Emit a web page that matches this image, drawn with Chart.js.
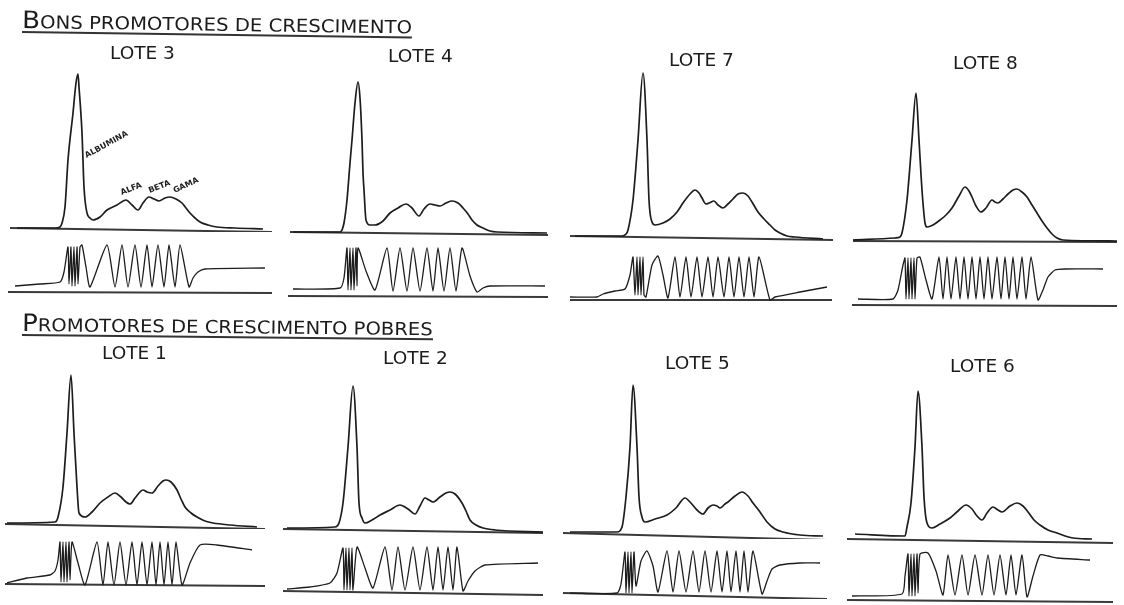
<!DOCTYPE html>
<html>
<head>
<meta charset="utf-8">
<script src="https://cdn.jsdelivr.net/npm/chart.js@4.4.1/dist/chart.umd.min.js"></script>
<style>
  html, body { margin: 0; padding: 0; background: #fff; }
  #page { position: relative; width: 1124px; height: 605px; overflow: hidden; background: #fff; }
  #page canvas { position: absolute; }
  .txt { position: absolute; white-space: nowrap; line-height: 1; font-family: "DejaVu Sans", sans-serif; color: #1c1c1c; }
</style>
</head>
<body>
<div id="page"></div>
<script>
// scans: [position along strip, height above baseline]
const lote3Curve = [[7,1],[45,1],[50,2],[52,6],[55,22],[58,69],[63,116],[66,146],[68,155],[69,142],[72,96],[74,42],[77,16],[80,11],[83,9],[90,12],[97,19],[107,24],[116,29],[122,24],[128,19],[133,26],[139,32],[144,30],[149,28],[155,31],[160,32],[166,30],[172,26],[176,21],[180,16],[185,11],[190,7],[198,4],[207,2],[225,1],[253,0]];
const lote3Trace = [[7,6],[32,8],[52,10],[56,20],[60,45],[61,8],[63,45],[64,6],[66,45],[67,6],[69,45],[70,8],[72,45],[74,47],[78,25],[82,5],[99,47],[107,5],[114,47],[120,5],[127,47],[133,5],[139,47],[144,5],[150,47],[156,5],[161,47],[167,5],[172,47],[181,5],[185,14],[190,20],[197,23],[257,24]];
const lote3Base = [[0,1],[262,-3]];
const lote3TraceBase = [[0,0],[264,-1]];

const lote4Curve = [[3,1],[50,1],[52,3],[54,10],[57,33],[60,70],[62,93],[65,130],[68,151],[70,135],[72,93],[73,60],[74,43],[76,13],[80,8],[85,8],[93,12],[100,20],[108,25],[116,29],[122,25],[129,17],[134,24],[140,29],[145,28],[150,27],[156,30],[162,32],[168,30],[173,25],[178,19],[182,13],[187,8],[193,5],[200,2],[207,1],[257,0]];
const lote4Trace = [[5,7],[52,8],[56,18],[59,48],[60,6],[62,48],[63,6],[65,48],[66,6],[68,48],[69,10],[70,48],[78,25],[87,6],[99,48],[105,5],[112,48],[119,5],[125,48],[132,5],[139,48],[145,5],[150,48],[156,5],[162,48],[168,5],[174,48],[182,20],[189,4],[195,8],[202,10],[257,10]];
const lote4Base = [[0,1],[258,-2]];
const lote4TraceBase = [[0,0],[260,-1]];

const lote7Curve = [[5,2],[52,2],[56,4],[58,8],[63,38],[68,98],[73,165],[77,98],[79,38],[82,16],[85,13],[93,15],[100,19],[107,26],[113,35],[120,44],[125,48],[129,45],[132,40],[136,34],[139,35],[144,37],[148,33],[153,30],[158,34],[163,39],[168,44],[173,45],[178,42],[182,36],[188,26],[194,19],[200,13],[205,8],[210,5],[217,2],[225,1],[253,-1]];
const lote7Trace = [[0,3],[27,3],[33,6],[45,9],[55,11],[60,25],[63,43],[65,5],[67,43],[68,5],[70,43],[71,5],[73,43],[74,5],[76,3],[82,35],[88,44],[93,25],[98,2],[105,43],[110,3],[116,43],[121,3],[127,43],[132,3],[138,43],[143,3],[148,43],[154,3],[159,43],[164,3],[169,43],[174,3],[179,43],[184,3],[189,43],[200,0],[205,3],[230,8],[257,13]];
const lote7Base = [[0,2],[263,-2]];
const lote7TraceBase = [[0,0],[262,0]];

const lote8Curve = [[0,1],[42,3],[47,4],[49,8],[54,41],[59,101],[63,148],[66,101],[69,51],[72,18],[74,14],[80,16],[87,21],[93,26],[99,33],[106,45],[112,54],[116,50],[119,44],[123,35],[128,29],[133,33],[139,41],[142,39],[145,38],[150,42],[155,47],[160,51],[164,52],[169,49],[174,44],[179,36],[184,28],[189,20],[194,13],[199,7],[204,3],[210,1],[264,0]];
const lote8Trace = [[6,6],[41,6],[46,15],[51,40],[53,47],[54,6],[56,47],[57,6],[59,47],[60,6],[62,47],[63,6],[65,47],[68,48],[74,25],[80,6],[87,48],[91,6],[95,48],[99,6],[104,48],[108,6],[112,48],[116,6],[120,48],[124,6],[128,48],[132,6],[136,48],[140,6],[145,48],[149,6],[153,48],[157,6],[161,48],[165,6],[170,48],[174,6],[179,48],[186,5],[191,15],[196,28],[203,35],[213,36],[251,36]];
const lote8Base = [[0,0],[264,-1]];
const lote8TraceBase = [[0,0],[265,-1]];

const lote1Curve = [[2,3],[50,4],[53,9],[58,39],[62,93],[66,151],[69,93],[72,39],[74,13],[80,9],[87,14],[95,23],[103,29],[110,33],[116,29],[121,24],[125,22],[130,28],[135,34],[138,36],[142,34],[147,33],[153,40],[158,45],[161,46],[166,44],[172,36],[176,27],[180,19],[186,13],[192,9],[200,5],[208,3],[225,1],[252,-1]];
const lote1Trace = [[2,2],[22,7],[45,10],[50,14],[53,25],[55,43],[56,3],[58,43],[59,3],[61,43],[62,3],[64,43],[65,5],[67,43],[73,22],[80,0],[92,43],[98,0],[103,43],[109,0],[115,43],[121,0],[127,43],[132,0],[137,43],[142,0],[147,43],[151,0],[155,43],[159,0],[163,43],[167,0],[171,43],[177,0],[185,22],[195,40],[212,40],[247,35]];
const lote1Base = [[0,2],[260,-3]];
const lote1TraceBase = [[0,1],[260,-1]];

const lote2Curve = [[4,3],[52,4],[56,8],[60,28],[65,84],[70,145],[74,84],[76,28],[79,13],[82,8],[89,11],[97,16],[107,21],[117,26],[125,22],[132,17],[137,25],[142,33],[146,31],[150,29],[157,34],[163,38],[167,39],[172,37],[179,28],[183,20],[187,11],[193,6],[200,3],[212,1],[260,-1]];
const lote2Trace = [[4,4],[27,6],[47,10],[54,20],[60,45],[61,3],[63,45],[64,3],[66,45],[67,3],[69,45],[70,3],[74,46],[82,25],[90,5],[102,46],[109,3],[115,46],[122,3],[130,46],[137,3],[144,46],[150,3],[155,46],[160,3],[165,46],[170,3],[174,46],[180,2],[185,12],[192,22],[202,28],[255,30]];
const lote2Base = [[0,2],[260,-2]];
const lote2TraceBase = [[0,2],[260,-2]];

const lote5Curve = [[7,4],[54,4],[59,9],[63,39],[67,89],[70,151],[74,89],[76,39],[79,19],[82,14],[92,17],[104,21],[113,28],[122,38],[127,34],[134,26],[140,22],[145,28],[150,31],[154,30],[157,28],[162,32],[165,34],[172,40],[179,44],[185,40],[190,33],[197,24],[204,14],[212,7],[220,4],[237,1],[260,0]];
const lote5Trace = [[7,3],[54,3],[58,12],[62,44],[63,3],[65,44],[66,3],[68,44],[69,3],[71,44],[73,10],[78,35],[84,45],[90,30],[95,4],[104,45],[110,4],[116,45],[123,4],[130,45],[136,4],[142,45],[148,4],[154,45],[159,4],[164,45],[168,4],[173,45],[177,4],[181,45],[185,4],[190,45],[199,2],[204,15],[209,27],[217,31],[237,33],[257,33]];
const lote5Base = [[0,3],[264,-4]];
const lote5TraceBase = [[0,3],[264,-3]];

const lote6Curve = [[8,7],[58,5],[60,14],[64,38],[68,94],[71,150],[75,94],[77,44],[80,18],[85,13],[93,17],[103,23],[111,30],[119,36],[125,32],[130,25],[135,21],[140,28],[146,34],[151,31],[155,29],[163,35],[170,38],[176,35],[181,29],[187,21],[193,16],[201,11],[210,8],[218,5],[226,3],[245,2]];
const lote6Trace = [[5,5],[55,7],[58,25],[61,47],[62,5],[64,47],[65,5],[67,47],[68,5],[70,47],[71,8],[73,47],[81,48],[89,30],[96,6],[101,46],[108,6],[115,46],[121,6],[128,46],[135,6],[141,46],[147,6],[153,46],[159,6],[164,46],[169,6],[175,46],[180,4],[186,25],[193,46],[201,45],[210,43],[243,41]];
const lote6Base = [[0,2],[266,-2]];
const lote6TraceBase = [[0,1],[266,-1]];

const groupTitles = ['BONS PROMOTORES DE CRESCIMENTO', 'PROMOTORES DE CRESCIMENTO POBRES'];
const fractionLabels = ['ALBUMINA', 'ALFA', 'BETA', 'GAMA'];

// placement of each panel on the page
const panels = [
  { title: 'LOTE 3', tx: 110, ty: 60, curve: lote3Curve, base: lote3Base, cx: 10, cy: 229, cw: 262, trace: lote3Trace, tbase: lote3TraceBase, rx: 8, ry: 292, rw: 264 },
  { title: 'LOTE 4', tx: 388, ty: 63, curve: lote4Curve, base: lote4Base, cx: 290, cy: 233, cw: 258, trace: lote4Trace, tbase: lote4TraceBase, rx: 288, ry: 296, rw: 260 },
  { title: 'LOTE 7', tx: 669, ty: 67, curve: lote7Curve, base: lote7Base, cx: 570, cy: 238, cw: 263, trace: lote7Trace, tbase: lote7TraceBase, rx: 570, ry: 300, rw: 262 },
  { title: 'LOTE 8', tx: 953, ty: 70, curve: lote8Curve, base: lote8Base, cx: 853, cy: 241, cw: 264, trace: lote8Trace, tbase: lote8TraceBase, rx: 852, ry: 305, rw: 265 },
  { title: 'LOTE 1', tx: 102, ty: 360, curve: lote1Curve, base: lote1Base, cx: 5, cy: 526, cw: 260, trace: lote1Trace, tbase: lote1TraceBase, rx: 5, ry: 585, rw: 260 },
  { title: 'LOTE 2', tx: 383, ty: 365, curve: lote2Curve, base: lote2Base, cx: 283, cy: 531, cw: 260, trace: lote2Trace, tbase: lote2TraceBase, rx: 283, ry: 593, rw: 260 },
  { title: 'LOTE 5', tx: 665, ty: 370, curve: lote5Curve, base: lote5Base, cx: 563, cy: 536, cw: 264, trace: lote5Trace, tbase: lote5TraceBase, rx: 563, ry: 596, rw: 264 },
  { title: 'LOTE 6', tx: 950, ty: 373, curve: lote6Curve, base: lote6Base, cx: 847, cy: 541, cw: 266, trace: lote6Trace, tbase: lote6TraceBase, rx: 847, ry: 601, rw: 266 }
];

const page = document.getElementById('page');
const INK = '#1d1d1d';

function toXY(pairs) {
  return pairs.map(p => ({ x: p[0], y: p[1] }));
}

// one small chart: a scan line plus its baseline, 1 unit = 1 px
function drawScan(points, base, left, baseY, width, yMax, lineW, smooth) {
  const pad = 3;
  const c = document.createElement('canvas');
  c.width = width + pad * 2;
  c.height = yMax + pad * 2;
  c.style.left = (left - pad) + 'px';
  c.style.top = (baseY - yMax - pad) + 'px';
  page.appendChild(c);

  const line = {
    data: toXY(points),
    borderColor: INK,
    borderWidth: lineW,
    pointRadius: 0,
    fill: false
  };
  if (smooth) line.cubicInterpolationMode = 'monotone';
  else line.tension = 0.2;

  new Chart(c, {
    type: 'line',
    data: {
      datasets: [
        line,
        {
          data: toXY(base),
          borderColor: '#3a3a3a',
          borderWidth: 2,
          pointRadius: 0,
          fill: false,
          tension: 0
        }
      ]
    },
    options: {
      responsive: false,
      animation: false,
      events: [],
      layout: { padding: 0 },
      plugins: { legend: { display: false }, tooltip: { enabled: false } },
      scales: {
        x: { type: 'linear', display: false, min: -pad, max: width + pad },
        y: { type: 'linear', display: false, min: -pad, max: yMax + pad }
      }
    }
  });
}

function addText(str, x, baseline, size, extra) {
  const d = document.createElement('div');
  d.className = 'txt';
  d.textContent = str;
  d.style.fontSize = size + 'px';
  d.style.left = x + 'px';
  d.style.top = (baseline - 0.846 * size) + 'px';
  if (extra) Object.assign(d.style, extra);
  page.appendChild(d);
  return d;
}

// underlined heading with a large first letter, stretched to the width it has in the scan
function addHeading(str, x, baseline, width, angle) {
  const big = 24, small = 18;
  const box = document.createElement('div');
  box.className = 'txt';
  box.style.left = x + 'px';
  box.style.top = (baseline - 0.846 * big) + 'px';
  box.style.fontSize = big + 'px';
  box.style.transformOrigin = '0 ' + (0.846 * big) + 'px';
  const s1 = document.createElement('span');
  s1.textContent = str[0];
  const s2 = document.createElement('span');
  s2.textContent = str.slice(1);
  s2.style.fontSize = small + 'px';
  box.appendChild(s1);
  box.appendChild(s2);
  page.appendChild(box);
  const w = box.offsetWidth;
  box.style.transform = 'rotate(' + angle + 'deg) scaleX(' + (width / w) + ')';
  const line = document.createElement('div');
  line.style.position = 'absolute';
  line.style.left = '0px';
  line.style.top = (0.846 * big + 3) + 'px';
  line.style.width = w + 'px';
  line.style.height = '1.5px';
  line.style.background = '#333';
  box.appendChild(line);
}

panels.forEach(p => {
  drawScan(p.curve, p.base, p.cx, p.cy, p.cw, 170, 1.7, true);
  drawScan(p.trace, p.tbase, p.rx, p.ry, p.rw, 52, 1.3, false);
  addText(p.title, p.tx, p.ty, 18.5);
});

addHeading(groupTitles[0], 22, 28, 390, 0.8);
addHeading(groupTitles[1], 22, 331, 411, 0.6);

// fraction names written on the LOTE 3 scan
const tag = { fontSize: '8px', fontWeight: 'bold', transformOrigin: '0 6.8px' };
addText(fractionLabels[0], 87, 159, 8, Object.assign({}, tag, { transform: 'rotate(-29deg)' }));
addText(fractionLabels[1], 122, 196, 8, Object.assign({}, tag, { transform: 'rotate(-22deg)' }));
addText(fractionLabels[2], 150, 194, 8, Object.assign({}, tag, { transform: 'rotate(-22deg)' }));
addText(fractionLabels[3], 175, 194, 8, Object.assign({}, tag, { transform: 'rotate(-25deg)' }));
</script>
</body>
</html>
